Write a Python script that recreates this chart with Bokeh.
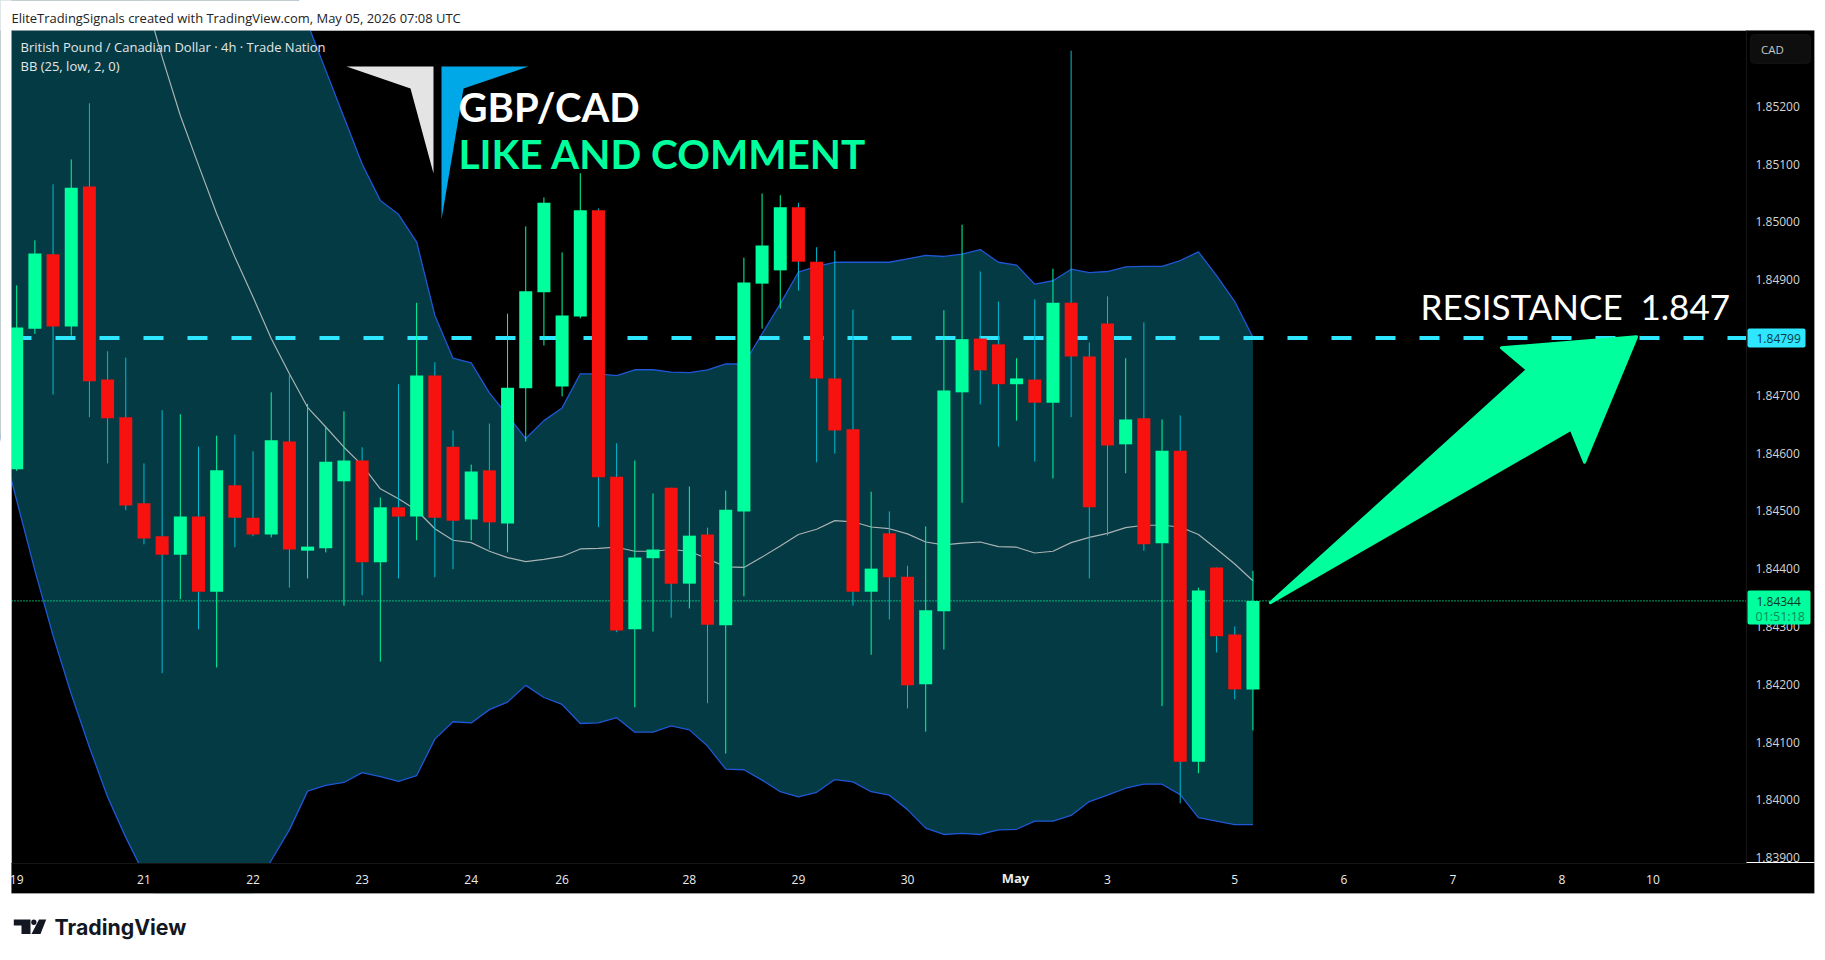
from bokeh.plotting import figure
from bokeh.embed import file_html
from bokeh.resources import INLINE
from bokeh.models import Label, BoxAnnotation, PolyAnnotation, FixedTicker, Range1d

index = list(range(69))
opens = [1.84572,1.84815,1.84944,1.84819,1.85061,1.84727,1.84662,1.84513,1.84456,1.84424,1.84490,1.84360,1.84544,1.84488,1.84459,1.84620,1.84431,1.84435,1.84551,1.84587,1.84411,1.84506,1.84490,1.84734,1.84611,1.84485,1.84570,1.84478,1.84712,1.84878,1.84715,1.84836,1.85020,1.84559,1.84295,1.84418,1.84540,1.84374,1.84459,1.84302,1.84499,1.84893,1.84916,1.85025,1.84931,1.84729,1.84641,1.84360,1.84461,1.84386,1.84200,1.84326,1.84705,1.84798,1.84788,1.84719,1.84727,1.84687,1.84860,1.84767,1.84824,1.84615,1.84660,1.84444,1.84604,1.84066,1.84402,1.84286,1.84191]
highs = [1.84890,1.84968,1.85065,1.85108,1.85205,1.84776,1.84765,1.84582,1.84674,1.84667,1.84611,1.84630,1.84632,1.84603,1.84705,1.84736,1.84685,1.84645,1.84672,1.84610,1.84523,1.84719,1.84860,1.84757,1.84639,1.84580,1.84651,1.84841,1.84992,1.85042,1.84947,1.85084,1.85023,1.84617,1.84587,1.84530,1.84540,1.84542,1.84471,1.84535,1.84938,1.85049,1.85046,1.85033,1.84956,1.84950,1.84848,1.84533,1.84499,1.84405,1.84473,1.84847,1.84995,1.84914,1.84862,1.84764,1.84866,1.84919,1.85296,1.84791,1.84871,1.84764,1.84826,1.84658,1.84665,1.84367,1.84402,1.84300,1.84396]
lows = [1.84569,1.84806,1.84701,1.84803,1.84662,1.84582,1.84501,1.84442,1.84219,1.84347,1.84295,1.84229,1.84437,1.84456,1.84454,1.84367,1.84383,1.84428,1.84336,1.84354,1.84239,1.84383,1.84449,1.84385,1.84399,1.84449,1.84433,1.84428,1.84620,1.84786,1.84698,1.84833,1.84472,1.84290,1.84160,1.84291,1.84315,1.84331,1.84167,1.84080,1.84352,1.84815,1.84850,1.84881,1.84584,1.84599,1.84336,1.84251,1.84312,1.84158,1.84118,1.84260,1.84514,1.84684,1.84611,1.84656,1.84585,1.84556,1.84662,1.84383,1.84457,1.84565,1.84431,1.84162,1.83994,1.84046,1.84255,1.84174,1.84120]
closes = [1.84817,1.84945,1.84819,1.85059,1.84724,1.84660,1.84509,1.84452,1.84424,1.84490,1.84360,1.84570,1.84488,1.84459,1.84622,1.84433,1.84438,1.84585,1.84587,1.84411,1.84506,1.84490,1.84734,1.84488,1.84483,1.84568,1.84480,1.84713,1.84880,1.85033,1.84838,1.85020,1.84558,1.84293,1.84419,1.84433,1.84374,1.84457,1.84303,1.84502,1.84895,1.84959,1.85025,1.84931,1.84729,1.84639,1.84360,1.84400,1.84385,1.84198,1.84328,1.84708,1.84797,1.84743,1.84719,1.84729,1.84687,1.84860,1.84767,1.84506,1.84613,1.84658,1.84442,1.84604,1.84066,1.84362,1.84283,1.84191,1.84344]

band_index = list(range(-1, 69))
bb_upper = [1.87113,1.86998,1.86882,1.86738,1.86594,1.86450,1.86306,1.86190,1.86075,1.85960,1.85873,1.85787,1.85700,1.85625,1.85556,1.85498,1.85423,1.85343,1.85262,1.85181,1.85100,1.85037,1.85013,1.84965,1.84838,1.84764,1.84756,1.84704,1.84665,1.84625,1.84656,1.84678,1.84737,1.84737,1.84734,1.84744,1.84744,1.84740,1.84739,1.84744,1.84754,1.84754,1.84806,1.84858,1.84913,1.84923,1.84930,1.84930,1.84930,1.84930,1.84936,1.84942,1.84940,1.84944,1.84952,1.84930,1.84925,1.84892,1.84898,1.84918,1.84912,1.84914,1.84922,1.84923,1.84923,1.84933,1.84948,1.84907,1.84862,1.84800]
bb_lower = [1.84639,1.84518,1.84397,1.84284,1.84183,1.84091,1.84005,1.83935,1.83872,1.83809,1.83768,1.83745,1.83745,1.83780,1.83837,1.83895,1.83948,1.84015,1.84025,1.84030,1.84047,1.84040,1.84032,1.84042,1.84105,1.84135,1.84133,1.84156,1.84169,1.84198,1.84177,1.84165,1.84132,1.84133,1.84142,1.84117,1.84117,1.84128,1.84121,1.84093,1.84053,1.84052,1.84034,1.84014,1.84005,1.84013,1.84035,1.84031,1.84014,1.84008,1.83983,1.83951,1.83940,1.83942,1.83940,1.83948,1.83949,1.83963,1.83963,1.83973,1.83997,1.84008,1.84020,1.84027,1.84027,1.84009,1.83969,1.83963,1.83957,1.83957]
bb_basis = [1.86306,1.86133,1.86017,1.85902,1.85787,1.85671,1.85585,1.85498,1.85395,1.85285,1.85184,1.85098,1.85014,1.84939,1.84870,1.84798,1.84737,1.84679,1.84645,1.84610,1.84579,1.84538,1.84521,1.84501,1.84469,1.84449,1.84445,1.84430,1.84419,1.84412,1.84416,1.84421,1.84434,1.84435,1.84437,1.84430,1.84430,1.84433,1.84430,1.84417,1.84403,1.84402,1.84420,1.84439,1.84459,1.84468,1.84483,1.84481,1.84472,1.84469,1.84460,1.84446,1.84441,1.84444,1.84446,1.84438,1.84437,1.84427,1.84430,1.84445,1.84454,1.84461,1.84471,1.84475,1.84475,1.84472,1.84459,1.84434,1.84408,1.84379]

price_ticks = [1.839,1.84,1.841,1.842,1.843,1.844,1.845,1.846,1.847,1.848,1.849,1.85,1.851,1.852]
price_labels = ["1.83900","1.84000","1.84100","1.84200","1.84300","1.84400","1.84500","1.84600","1.84700"," ","1.84900","1.85000","1.85100","1.85200"]
time_ticks = [0,7,13,19,25,30,37,43,49,55,60,67,73,79,85,90]
time_labels = ["19","21","22","23","24","26","28","29","30"," ","3","5","6","7","8","10"]
resistance = 1.84799
last_price = 1.84344
arrow_x = [68.96,83.1,81.67,89.1,86.24,85.5]
arrow_y = [1.84341,1.84744,1.84782,1.84801,1.84584,1.84641]

GREEN = "#00ff9d"
RED = "#f7120f"
CYAN = "#2ee6ff"
WICK_DOWN = "#00bcd4"
FILL = "#033a43"
BLUE = "#1f57d6"
AXIS_TXT = "#d4d4d4"
SANS = "Open Sans"

W, H = 1820, 950
L, R, T, B, OUT_R, OUT_B = 11, 1746, 30, 863, 1814, 893
def sx(px): return px
def sy(py): return H - py
# x: 18.18 px per bar, bar 0 at 16.2 px; y: 57800 px per price unit, 1.852 at 105.7 px
X0, X1 = (0 - 16.2) / 18.18, (W - 16.2) / 18.18
Y1, Y0 = 1.852 + 105.7 / 57800, 1.852 - (H - 105.7) / 57800
PANE_L, PANE_R = (L - 16.2) / 18.18, (R - 16.2) / 18.18
PANE_T, PANE_B = 1.852 - (T - 105.7) / 57800, 1.852 - (B - 105.7) / 57800

p = figure(width=W, height=H, output_backend="svg", toolbar_location=None,
           x_range=Range1d(X0, X1), y_range=Range1d(Y0, Y1),
           y_axis_location="right", min_border=0, min_border_left=0, min_border_right=0,
           min_border_top=0, min_border_bottom=0, background_fill_color="white",
           border_fill_color="white", outline_line_color=None)
p.grid.visible = False

def box(x0, x1, y0, y1, fill, line=None, radius=0, level="overlay"):
    p.add_layout(BoxAnnotation(left=sx(x0), right=sx(x1), top=sy(y0), bottom=sy(y1),
                               left_units="screen", right_units="screen", top_units="screen", bottom_units="screen",
                               fill_color=fill, fill_alpha=1 if fill else 0, line_color=line, border_radius=radius, level=level))

box(L, OUT_R, T, OUT_B, "black", None, 0, "underlay")

ax = p.yaxis[0]
ax.fixed_location = PANE_R
ax.bounds = (PANE_B, PANE_T)
ax.ticker = FixedTicker(ticks=price_ticks)
ax.major_label_overrides = dict(zip(price_ticks, price_labels))
ax.major_tick_line_color = None; ax.minor_tick_line_color = None
ax.major_tick_out = 0; ax.major_tick_in = 0
ax.major_label_standoff = 9
ax.axis_line_color = "#161616"
ax.major_label_text_color = AXIS_TXT
ax.major_label_text_font = SANS
ax.major_label_text_font_size = "12px"

bx = p.xaxis[0]
bx.fixed_location = PANE_B
bx.bounds = (PANE_L, PANE_R)
bx.ticker = FixedTicker(ticks=time_ticks)
bx.major_label_overrides = dict(zip(time_ticks, time_labels))
bx.major_tick_line_color = None; bx.minor_tick_line_color = None
bx.major_tick_out = 0; bx.major_tick_in = 0
bx.major_label_standoff = 7
bx.axis_line_color = "#161616"
bx.major_label_text_color = "#ececec"
bx.major_label_text_font = SANS
bx.major_label_text_font_size = "12px"

p.varea(band_index, bb_lower, bb_upper, fill_color=FILL, fill_alpha=1)
p.line(band_index, bb_upper, line_color=BLUE, line_width=1.3)
p.line(band_index, bb_lower, line_color=BLUE, line_width=1.3)
p.line(band_index, bb_basis, line_color="#a9b2b4", line_width=1.2)

p.line([PANE_L, PANE_R], [resistance, resistance], line_color=CYAN, line_width=4, line_dash="20 24")
p.line([PANE_L, PANE_R], [last_price, last_price], line_color=GREEN, line_width=1.2, line_dash="1 2")

up = [c >= o for o, c in zip(opens, closes)]
wick_colors = [GREEN if u else WICK_DOWN for u in up]
body_colors = [GREEN if u else RED for u in up]
p.segment(index, lows, index, highs, line_color=wick_colors, line_width=1)
p.vbar(index, width=0.715, bottom=[min(o, c) for o, c in zip(opens, closes)],
       top=[max(o, c) for o, c in zip(opens, closes)], fill_color=body_colors, line_color=None)

p.patch(arrow_x, arrow_y, fill_color=GREEN, line_color=GREEN, line_width=3, line_join="round")

# masks: keep the band and dashes inside the chart pane, drawn above the glyphs and under the axes
box(-20, W + 20, -20, T, "white", None, 0, "glyph")
box(-20, L, -20, H + 20, "white", None, 0, "glyph")
box(L, OUT_R, B, OUT_B, "black", None, 0, "glyph")
box(R, OUT_R, T, B, "black", None, 0, "glyph")
box(OUT_R, W + 20, -20, H + 20, "white", None, 0, "glyph")
box(-20, W + 20, OUT_B, H + 20, "white", None, 0, "glyph")
box(L, OUT_R, T, OUT_B, None, "#9a9a9a", 0, "glyph")

def poly(pts, color):
    p.add_layout(PolyAnnotation(xs=[sx(a) for a, _ in pts], ys=[sy(b) for _, b in pts],
                                xs_units="screen", ys_units="screen", fill_color=color, fill_alpha=1,
                                line_color=None, level="overlay"))

def label(text, x, y, size, color, font=SANS, style="normal", align="left"):
    p.add_layout(Label(text=text, x=sx(x), y=sy(y), x_units="screen", y_units="screen",
                       text_font=font, text_font_size=size, text_color=color, text_font_style=style,
                       text_align=align, text_baseline="middle", level="overlay"))

poly([(346,66),(433,66),(433,173),(410,88)], "#e4e4e4")
poly([(441,66),(528,66),(463,88),(441,219)], "#00a8e8")
label("GBP/CAD", 458, 106, "40px", "white", "Lato", "bold")
label("LIKE AND COMMENT", 458, 153, "40.5px", GREEN, "Lato", "bold")
label("RESISTANCE\u00a0\u00a01.847", 1420, 305, "35px", "white", "Lato")

label("EliteTradingSignals created with TradingView.com, May 05, 2026 07:08 UTC", 11, 17, "12.95px", "#222222")
label("British Pound / Canadian Dollar · 4h · Trade Nation", 20, 46, "13px", "#e6e6e6")
label("BB (25, low, 2, 0)", 20, 65, "13px", "#e6e6e6")
label("May", 1015, 877, "13px", "#ececec", SANS, "bold", "center")

box(1750, 1810, 34, 63, "#0e0e0e", "#2c2c2c", 4)
label("CAD", 1760.5, 48.5, "11.5px", "#c8c8c8")
box(1747, 1805, 328, 347, CYAN, None, 2)
label("1.84799", 1756, 338, "12px", "#083a44")
box(1747, 1810, 590, 624, GREEN, None, 2)
label("1.84344", 1756, 600.5, "12px", "#063a28")
label("01:51:18", 1755, 615.5, "12.5px", "#0a8a5c")
box(R, OUT_R, 861.5, 862.5, "white")

LOGO = "#131722"
poly([(13.3,919),(30,919),(30,933.5),(21,933.5),(21,925),(13.3,925)], LOGO)
poly([(38.5,919),(45.7,919),(40,933.4),(31,933.4)], LOGO)
p.add_layout(BoxAnnotation(left=sx(30.7), right=sx(36), top=sy(919), bottom=sy(924.4),
                           left_units="screen", right_units="screen", top_units="screen", bottom_units="screen",
                           fill_color=LOGO, fill_alpha=1, line_color=None, border_radius=3, level="overlay"))
label("TradingView", 54, 926.5, "21.3px", LOGO, "Inter", "bold")

open("out.html", "w").write(file_html(p, INLINE))
